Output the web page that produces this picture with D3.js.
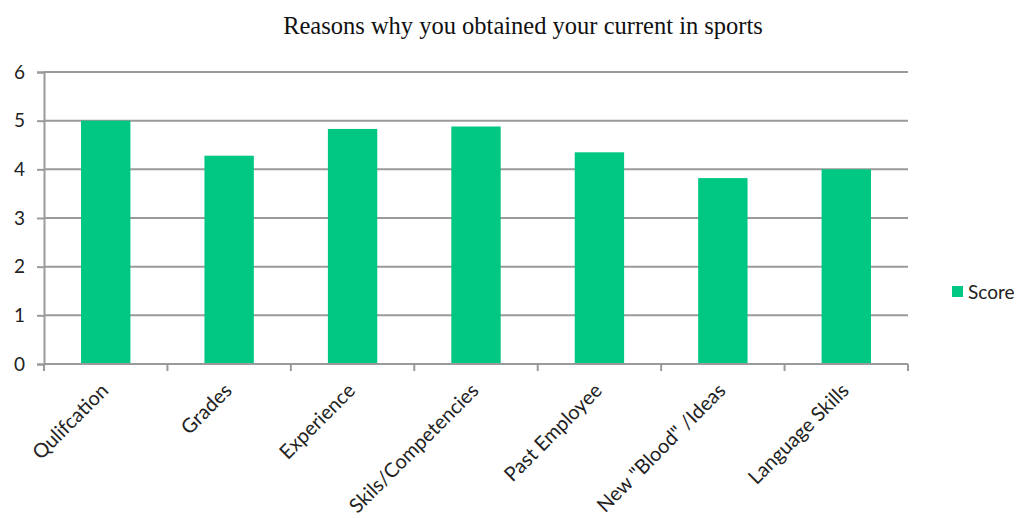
<!DOCTYPE html>
<html>
<head>
<meta charset="utf-8">
<script src="https://cdn.jsdelivr.net/npm/d3@7"></script>
<style>
  body { margin: 0; background: #fff; }
</style>
</head>
<body>
<div id="chart"></div>
<script>
const categories = ["Qulifcation", "Grades", "Experience", "Skils/Competencies", "Past Employee", "New \"Blood\" /Ideas", "Language Skills"];
const scores = [5.0, 4.28, 4.83, 4.88, 4.35, 3.82, 4.0];
const yTicks = [0, 1, 2, 3, 4, 5, 6];
const seriesName = "Score";

const width = 1020, height = 518;
const margin = { top: 72, right: 112, bottom: 154, left: 44 };
const green = "#00c781", grid = "#9a9a9a";
const sans = "Lato, 'Open Sans', sans-serif";

const svg = d3.select("#chart")
  .append("svg")
  .attr("width", width)
  .attr("height", height);

const x = d3.scaleBand()
  .domain(categories)
  .range([margin.left, width - margin.right])
  .paddingInner(0.6)
  .paddingOuter(0.3);

const y = d3.scaleLinear()
  .domain([0, 6])
  .range([height - margin.bottom, margin.top]);

// title
svg.append("text")
  .attr("x", 523)
  .attr("y", 34)
  .attr("text-anchor", "middle")
  .style("font-family", "'Liberation Serif', serif")
  .style("font-size", "24.5px")
  .attr("fill", "#111")
  .text("Reasons why you obtained your current in sports");

// gridlines
svg.append("g")
  .selectAll("line")
  .data(yTicks.filter(d => d > 0))
  .join("line")
  .attr("x1", margin.left)
  .attr("x2", width - margin.right)
  .attr("y1", d => y(d))
  .attr("y2", d => y(d))
  .attr("stroke", grid)
  .attr("stroke-width", 2);

// bars
svg.append("g")
  .selectAll("rect")
  .data(scores)
  .join("rect")
  .attr("x", (d, i) => x(categories[i]))
  .attr("y", d => y(d))
  .attr("width", x.bandwidth())
  .attr("height", d => y(0) - y(d))
  .attr("fill", green);

// y axis
const yAxis = svg.append("g")
  .attr("transform", `translate(${margin.left},0)`)
  .call(d3.axisLeft(y).tickValues(yTicks).tickSize(7).tickPadding(12).tickFormat(d3.format("d")));
yAxis.select(".domain").attr("stroke", grid).attr("stroke-width", 2);
yAxis.selectAll(".tick line").attr("stroke", grid).attr("stroke-width", 2);
yAxis.selectAll(".tick text")
  .style("font-family", sans)
  .style("font-size", "19px")
  .attr("fill", "#222");

// x axis with ticks at category boundaries
const xAxis = svg.append("g")
  .attr("transform", `translate(0,${y(0)})`);
xAxis.append("line")
  .attr("x1", margin.left).attr("x2", width - margin.right)
  .attr("stroke", grid).attr("stroke-width", 2);
const bounds = d3.range(categories.length + 1).map(i => margin.left + i * x.step());
xAxis.selectAll(".bt")
  .data(bounds)
  .join("line")
  .attr("class", "bt")
  .attr("x1", d => d).attr("x2", d => d)
  .attr("y1", 0).attr("y2", 7)
  .attr("stroke", grid).attr("stroke-width", 2);
xAxis.selectAll("text")
  .data(categories)
  .join("text")
  .attr("transform", d => `translate(${x(d) + x.bandwidth() / 2 - 6},${18}) rotate(-45)`)
  .attr("text-anchor", "end")
  .attr("dy", "0.7em")
  .style("font-family", sans)
  .style("font-size", "20px")
  .attr("fill", "#222")
  .text(d => d);

// legend
const legend = svg.append("g").attr("transform", "translate(952,286)");
legend.append("rect").attr("width", 11).attr("height", 11).attr("fill", green);
legend.append("text")
  .attr("x", 16).attr("y", 13)
  .style("font-family", sans)
  .style("font-size", "19px")
  .attr("fill", "#222")
  .text(seriesName);
</script>
</body>
</html>
